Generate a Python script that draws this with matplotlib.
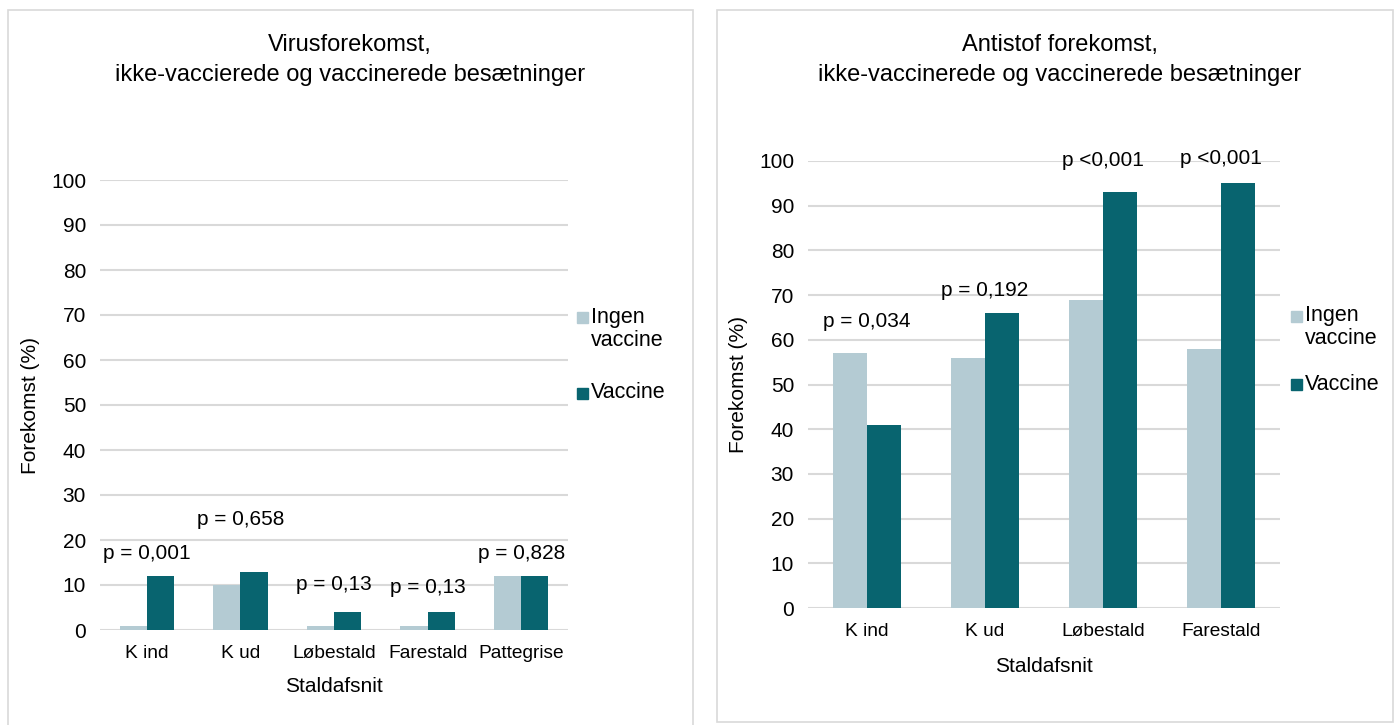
import matplotlib
matplotlib.use("Agg")
import matplotlib.pyplot as plt
from matplotlib.patches import Rectangle
import numpy as np

plt.rcParams['font.family'] = ['Liberation Sans', 'DejaVu Sans']

LIGHT = '#b4cbd3'
DARK = '#08646f'
GRID = '#d9d9d9'

# left panel: virus
virus_cats = ['K ind', 'K ud', 'Løbestald', 'Farestald', 'Pattegrise']
virus_ingen = [1, 10, 1, 1, 12]
virus_vacc = [12, 13, 4, 4, 12]
virus_p = ['p = 0,001', 'p = 0,658', 'p = 0,13', 'p = 0,13', 'p = 0,828']
virus_p_y = [17, 24.5, 10, 9.5, 17]

# right panel: antibodies
anti_cats = ['K ind', 'K ud', 'Løbestald', 'Farestald']
anti_ingen = [57, 56, 69, 58]
anti_vacc = [41, 66, 93, 95]
anti_p = ['p = 0,034', 'p = 0,192', 'p <0,001', 'p <0,001']
anti_p_y = [64, 71, 100, 100.5]

W, H = 1400, 725
fig = plt.figure(figsize=(14, 7.25), dpi=100, facecolor='white')


def fx(px):
    return px / W


def fy(py):
    return 1 - py / H


# panel frames
fig.patches.append(Rectangle((fx(8), -0.01), fx(685), fy(10) + 0.01,
                             transform=fig.transFigure, fill=False,
                             edgecolor=GRID, linewidth=1.2))
fig.patches.append(Rectangle((fx(717), fy(722)), fx(676), fy(10) - fy(722),
                             transform=fig.transFigure, fill=False,
                             edgecolor=GRID, linewidth=1.2))


def legend_box(x, y_ingen, y_vacc):
    # hand-placed legend: square aligned with first line of the label
    s = 11
    fig.patches.append(Rectangle((fx(x), fy(y_ingen + s / 2)), fx(s), s / H,
                                 transform=fig.transFigure, color=LIGHT))
    fig.patches.append(Rectangle((fx(x), fy(y_vacc + s / 2)), fx(s), s / H,
                                 transform=fig.transFigure, color=DARK))
    fig.text(fx(x + 14), fy(y_ingen), 'Ingen', ha='left', va='center', fontsize=15.5)
    fig.text(fx(x + 14), fy(y_ingen + 23), 'vaccine', ha='left', va='center', fontsize=15.5)
    fig.text(fx(x + 14), fy(y_vacc), 'Vaccine', ha='left', va='center', fontsize=15.5)


def draw_panel(rect, cats, ingen, vacc, pvals, py, title, title_x):
    ax = fig.add_axes(rect)
    x = np.arange(len(cats))
    w = 0.29
    ax.bar(x - w / 2, ingen, w, color=LIGHT, zorder=3)
    ax.bar(x + w / 2, vacc, w, color=DARK, zorder=3)
    ax.set_xlim(-0.5, len(cats) - 0.5)
    ax.set_ylim(0, 100)
    ax.set_yticks(range(0, 101, 10))
    ax.yaxis.grid(True, color=GRID, linewidth=1.5, zorder=0)
    for s in ax.spines.values():
        s.set_visible(False)
    ax.tick_params(length=0, labelsize=15, pad=10)
    ax.tick_params(axis='x', labelsize=13.8, pad=11)
    ax.set_xticks(x)
    ax.set_xticklabels(cats)
    ax.set_ylabel('Forekomst (%)', fontsize=15)
    ax.set_xlabel('Staldafsnit', fontsize=15)
    for xi, t, yy in zip(x, pvals, py):
        ax.text(xi, yy, t, ha='center', va='center', fontsize=15)
    fig.text(title_x, fy(60), title, ha='center', va='center',
             fontsize=17, linespacing=1.5)
    return ax


ax1 = draw_panel([fx(100), fy(630), fx(468), 450 / H],
                 virus_cats, virus_ingen, virus_vacc, virus_p, virus_p_y,
                 'Virusforekomst,\nikke-vaccierede og vaccinerede besætninger',
                 fx(350))
ax1.xaxis.set_label_coords(0.5, -47 / 450)
ax1.yaxis.set_label_coords(-60 / 468, 0.5)
legend_box(577, 318, 393)

ax2 = draw_panel([fx(808), fy(608), fx(472), 447 / H],
                 anti_cats, anti_ingen, anti_vacc, anti_p, anti_p_y,
                 'Antistof forekomst,\nikke-vaccinerede og vaccinerede besætninger',
                 fx(1060))
ax2.xaxis.set_label_coords(0.5, -49 / 447)
ax2.yaxis.set_label_coords(-60 / 472, 0.5)
legend_box(1291, 316, 384)

fig.savefig('out.png', dpi=100, facecolor='white')
